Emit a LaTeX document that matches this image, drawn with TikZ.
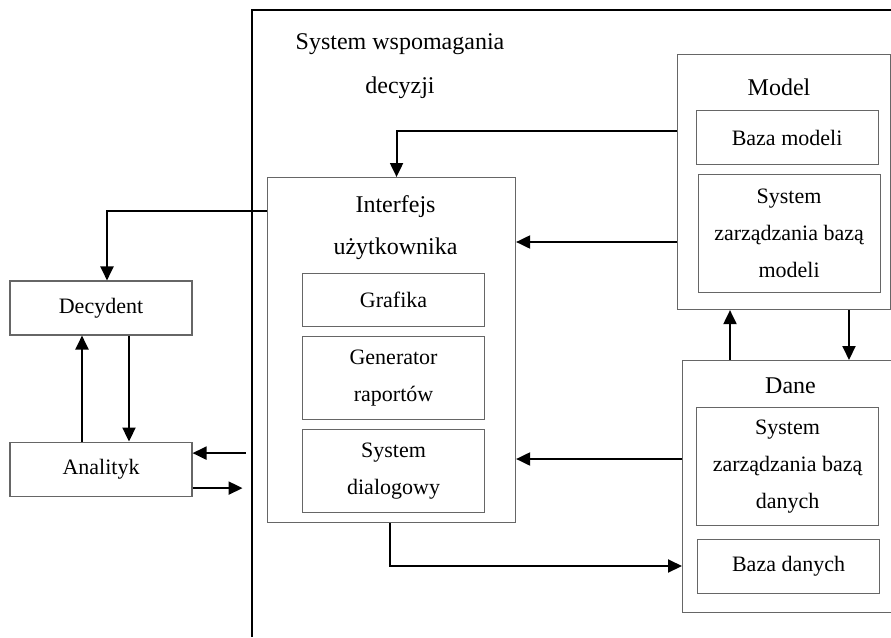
\documentclass[tikz,border=0pt]{standalone}
\usepackage{fontspec}
\setmainfont{Liberation Serif}
\usepackage{tikz}
\usetikzlibrary{positioning,arrows.meta}

\begin{document}
\begin{tikzpicture}[
    x=1pt, y=-1pt,
    box/.style={draw=black!60, line width=1.1pt, align=center, inner sep=0pt,
      minimum width=182pt, minimum height=54pt, font=\fontsize{22}{37}\selectfont},
    container/.style={draw=black!60, line width=1.1pt, anchor=north west, inner sep=0pt},
    title/.style={align=center, inner sep=0pt, font=\fontsize{24}{42}\selectfont},
    arrow/.style={-{Triangle[length=14pt,width=13pt]}, line width=2pt},
    sysframe/.style={line width=2pt}
  ]
    \useasboundingbox (0,0) rectangle (891,637);

    % frame of the decision support system
    \draw[sysframe] (252,637) |- (891,10);
    \node[title, font=\fontsize{24}{44}\selectfont] (sys) at (400,66) {System wspomagania\\decyzji};

    % people
    \node[box] (dec) at (101,308) {Decydent};
    \node[box, below=106pt of dec] (an) {Analityk};

    % user interface
    \node[container, minimum width=248pt, minimum height=345pt] (ui) at (267,177) {};
    \node[title, below=18pt of ui.north, xshift=4pt] (uit) {Interfejs\\użytkownika};
    \node[box, below=96pt of ui.north, xshift=2pt, minimum height=53pt] (graf) {Grafika};
    \node[box, below=9pt of graf, minimum height=83pt] (gen) {Generator\\raportów};
    \node[box, below=9pt of gen, minimum height=83pt] (dial) {System\\dialogowy};

    % model
    \node[container, minimum width=213pt, minimum height=255pt] (model) at (677,54) {};
    \node[title, below=25pt of model.north, xshift=-5pt] (modt) {Model};
    \node[box, below=56pt of model.north, xshift=3pt] (mbaza) {Baza modeli};
    \node[box, below=9pt of mbaza, xshift=2pt, minimum height=118pt] (msys) {System\\zarządzania bazą\\modeli};

    % data
    \node[container, minimum width=210pt, minimum height=252pt] (dane) at (682,360) {};
    \node[title, below=18pt of dane.north, xshift=3pt] (danet) {Dane};
    \node[box, below=47pt of dane.north] (dsys) [minimum height=118pt] {System\\zarządzania bazą\\danych};
    \node[box, below=13pt of dsys, xshift=1pt] (dbaza) {Baza danych};

    % helper points
    \coordinate (m1) at ([yshift=-77pt]model.north west);
    \coordinate (m2) at ([yshift=-188pt]model.north west);
    \coordinate (d1) at ([yshift=-99pt]dane.north west);
    \coordinate (d2) at ([yshift=-206pt]dane.north west);
    \coordinate (up) at ([xshift=53pt]model.south west);
    \coordinate (dn) at ([xshift=172pt]model.south west);

    \draw[arrow] (m1) -| ([xshift=5pt]ui.north);
    \draw[arrow] (m2) -- (m2 -| ui.east);
    \draw[arrow] (d1) -- (d1 -| ui.east);
    \draw[arrow] ([xshift=-2pt]ui.south) |- (d2);
    \draw[arrow] (up |- dane.north) -- (up);
    \draw[arrow] (dn) -- (dn |- dane.north);
    \draw[arrow] ([yshift=-34pt]ui.north west) -| ([xshift=6pt]dec.north);
    \draw[arrow] ([xshift=-19pt]an.north) -- ([xshift=-19pt]dec.south);
    \draw[arrow] ([xshift=28pt]dec.south) -- ([xshift=28pt]an.north);
    \draw[arrow] ([xshift=53pt,yshift=16pt]an.east) -- ([yshift=16pt]an.east);
    \draw[arrow] ([yshift=-19pt]an.east) -- ([xshift=50pt,yshift=-19pt]an.east);
  \end{tikzpicture}
\end{document}
